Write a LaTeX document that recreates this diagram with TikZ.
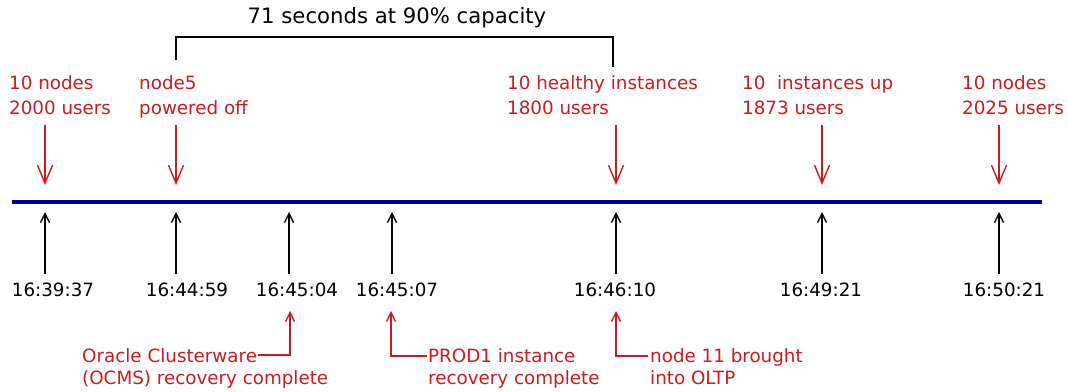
\documentclass[tikz,border=0pt]{standalone}
\usepackage{fontspec}
\setmainfont{DejaVu Sans}
\usepackage{xcolor}
\definecolor{evred}{RGB}{204,26,32}
\definecolor{lineblue}{RGB}{0,0,160}
\usetikzlibrary{arrows.meta,calc}
\tikzset{>={Straight Barb[length=9pt,width=9pt]}}

\begin{document}
\begin{tikzpicture}[x=1pt, y=-1pt,
    font=\fontsize{18.3}{25}\selectfont,
    evlbl/.style={text=evred, align=left, anchor=north west, inner sep=0pt},
    notelbl/.style={text=evred, anchor=base west, inner sep=0pt},
    timelbl/.style={anchor=base, inner sep=0pt},
    tick/.style={->, line width=1.4pt},
    drop/.style={-{Straight Barb[length=18pt,width=15pt]}, evred, line width=1.4pt},
    note/.style={->, evred, line width=1.4pt}]
    \useasboundingbox (0,0) rectangle (1068,391);
    % time line
    \coordinate (ls) at (12,202);
    \coordinate (le) at (1042,202);
    \draw[lineblue, line width=4pt] (ls) -- (le);
    \coordinate (k1) at (45,202);
    \coordinate (k2) at (176,202);
    \coordinate (k3) at (289,202);
    \coordinate (k4) at (392,202);
    \coordinate (k5) at (616,202);
    \coordinate (k6) at (822,202);
    \coordinate (k7) at (999,202);
    % caption and bracket
    \node[inner sep=0pt, font=\fontsize{21.2}{24}\selectfont] (cap) at (397,18) {71 seconds at 90\% capacity};
    \coordinate (bl) at (176,60);
    \coordinate (br) at (613,67);
    \draw[line width=1.4pt] (bl) -- ++(0,-23) -| (br);
    % events above the line
    \node[evlbl] (ev1) at (9,75) {10 nodes\\2000 users};
    \node[evlbl] (ev2) at (139,75) {node5\\powered off};
    \node[evlbl] (ev3) at (507,75) {10 healthy instances\\1800 users};
    \node[evlbl] (ev4) at (742,75) {10\ \ instances up\\1873 users};
    \node[evlbl] (ev5) at (962,75) {10 nodes\\2025 users};
    \draw[drop] ([yshift=77pt]k1) -- ([yshift=17pt]k1);
    \draw[drop] ([yshift=77pt]k2) -- ([yshift=17pt]k2);
    \draw[drop] ([yshift=77pt]k5) -- ([yshift=17pt]k5);
    \draw[drop] ([yshift=77pt]k6) -- ([yshift=17pt]k6);
    \draw[drop] ([yshift=77pt]k7) -- ([yshift=17pt]k7);
    % times below the line
    \node[timelbl] (t1) at (53,296) {16:39:37};
    \node[timelbl] (t2) at (187,296) {16:44:59};
    \node[timelbl] (t3) at (297,296) {16:45:04};
    \node[timelbl] (t4) at (397,296) {16:45:07};
    \node[timelbl] (t5) at (615,296) {16:46:10};
    \node[timelbl] (t6) at (821,296) {16:49:21};
    \node[timelbl] (t7) at (1004,296) {16:50:21};
    \draw[tick] ([yshift=-72pt]k1) -- ([yshift=-10pt]k1);
    \draw[tick] ([yshift=-72pt]k2) -- ([yshift=-10pt]k2);
    \draw[tick] ([yshift=-72pt]k3) -- ([yshift=-10pt]k3);
    \draw[tick] ([yshift=-72pt]k4) -- ([yshift=-10pt]k4);
    \draw[tick] ([yshift=-72pt]k5) -- ([yshift=-10pt]k5);
    \draw[tick] ([yshift=-72pt]k6) -- ([yshift=-10pt]k6);
    \draw[tick] ([yshift=-72pt]k7) -- ([yshift=-10pt]k7);
    % notes under the times
    \node[notelbl] (oc1) at (82,362) {Oracle Clusterware};
    \node[notelbl] (oc2) at ([yshift=-22pt]oc1.base west) {(OCMS) recovery complete};
    \node[notelbl] (pr1) at (428,362) {PROD1 instance};
    \node[notelbl] (pr2) at ([yshift=-22pt]pr1.base west) {recovery complete};
    \node[notelbl] (nd1) at (650,362) {node 11 brought};
    \node[notelbl] (nd2) at ([yshift=-22pt]nd1.base west) {into OLTP};
    \draw[note] ([xshift=1pt,yshift=7pt]oc1.base east) -| ([xshift=1pt,yshift=-109pt]k3);
    \draw[note] ([xshift=-1pt,yshift=6pt]pr1.base west) -| ([xshift=-1pt,yshift=-109pt]k4);
    \draw[note] ([xshift=-2pt,yshift=6pt]nd1.base west) -| ([yshift=-109pt]k5);
\end{tikzpicture}
\end{document}
